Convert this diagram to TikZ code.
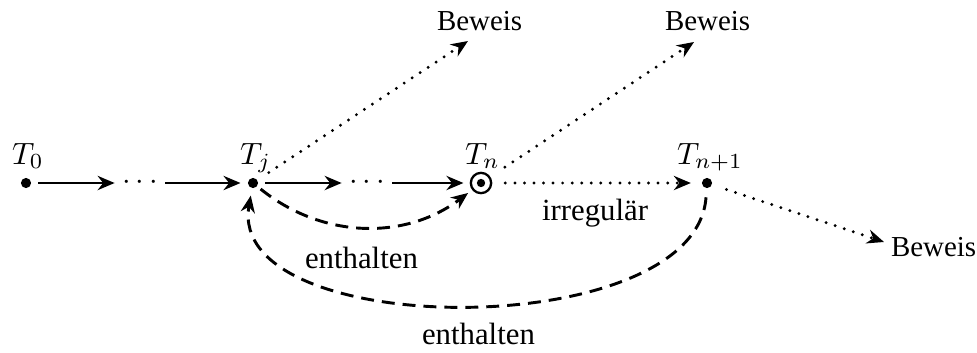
\documentclass[tikz,border=0pt]{standalone}
\usepackage{fontspec}
\setmainfont{Liberation Serif}
\usetikzlibrary{arrows.meta,calc}
\tikzset{
  tip/.style={-{Stealth[length=5.5pt,width=4.6pt,inset=1.8pt]}},
  pt/.style={circle,fill=black,inner sep=0pt,minimum size=3.3pt,outer sep=0pt},
  ring/.style={circle,draw=black,line width=0.75pt,inner sep=0pt,minimum size=6.6pt,outer sep=0pt},
  dd/.style={inner sep=0pt,outer sep=0pt},
  lab/.style={inner sep=0pt,outer sep=0pt,anchor=base west},
  txt/.style={inner sep=0pt,outer sep=0pt,anchor=base west},
  bew/.style={txt,font=\fontsize{9.4pt}{11pt}\selectfont},
  solidarr/.style={tip,line width=0.95pt,shorten <=2.4pt,shorten >=2.4pt},
  dotarr/.style={tip,line width=1.05pt,line cap=round,dash pattern=on 0pt off 3.1pt},
  dasharr/.style={tip,line width=0.95pt,dash pattern=on 4.2pt off 2.6pt}
}
\begin{document}
\begin{tikzpicture}[x=0.3247pt,y=-0.3247pt]
\useasboundingbox (0,0) rectangle (977,352);
% main nodes
\node[pt] (T0) at (26,183) {};
\node[pt] (Tj) at (253,183) {};
\node[ring] (Tn) at (481,183) {};
\fill (Tn.center) circle (1.35pt);
\node[pt] (Tn1) at (707,183) {};
\node[dd] (d1) at (140,183) {$\cdots$};
\node[dd] (d2) at (367,183) {$\cdots$};
% labels
\node[lab] (l0) at (12,164) {$T_0$};
\node[lab] (lj) at (240,164) {$T_j$};
\node[lab] (ln) at (465,164) {$T_n$};
\node[lab] (ln1) at (677,164) {$T_{n+1}$};
% texts
\node[bew] (B1) at (437,31) {Beweis};
\node[bew] (B2) at (665,31) {Beweis};
\node[bew] (B3) at (891,256) {Beweis};
\node[txt] (irr) at (542,220) {irregulär};
\node[txt] (e1) at (305,268) {enthalten};
\node[txt] (e2) at (422,344) {enthalten};
% free ends
\coordinate (a1) at (468,41);
\coordinate (a2) at (694,42);
\coordinate (a3) at (884,242);
% solid chain
\draw[solidarr] (T0) -- (d1);
\draw[solidarr] (d1) -- (Tj);
\draw[solidarr] (Tj) -- (d2);
\draw[solidarr] (d2) -- (Tn);
% dotted
\draw[dotarr,shorten <=4.6pt,shorten >=3.6pt] (Tn) -- (Tn1);
\draw[dotarr,shorten <=4.5pt] (Tj) -- (a1);
\draw[dotarr,shorten <=6pt] (Tn) -- (a2);
\draw[dotarr,shorten <=5pt] (Tn1) -- (a3);
% dashed
\draw[dasharr,shorten <=1.5pt,shorten >=2pt] (Tj) to[bend right=38] (Tn);
\draw[dasharr,shorten <=3pt,shorten >=2.5pt] (Tn1) to[out=-94,in=-100,looseness=0.88] (Tj);
\end{tikzpicture}
\end{document}
